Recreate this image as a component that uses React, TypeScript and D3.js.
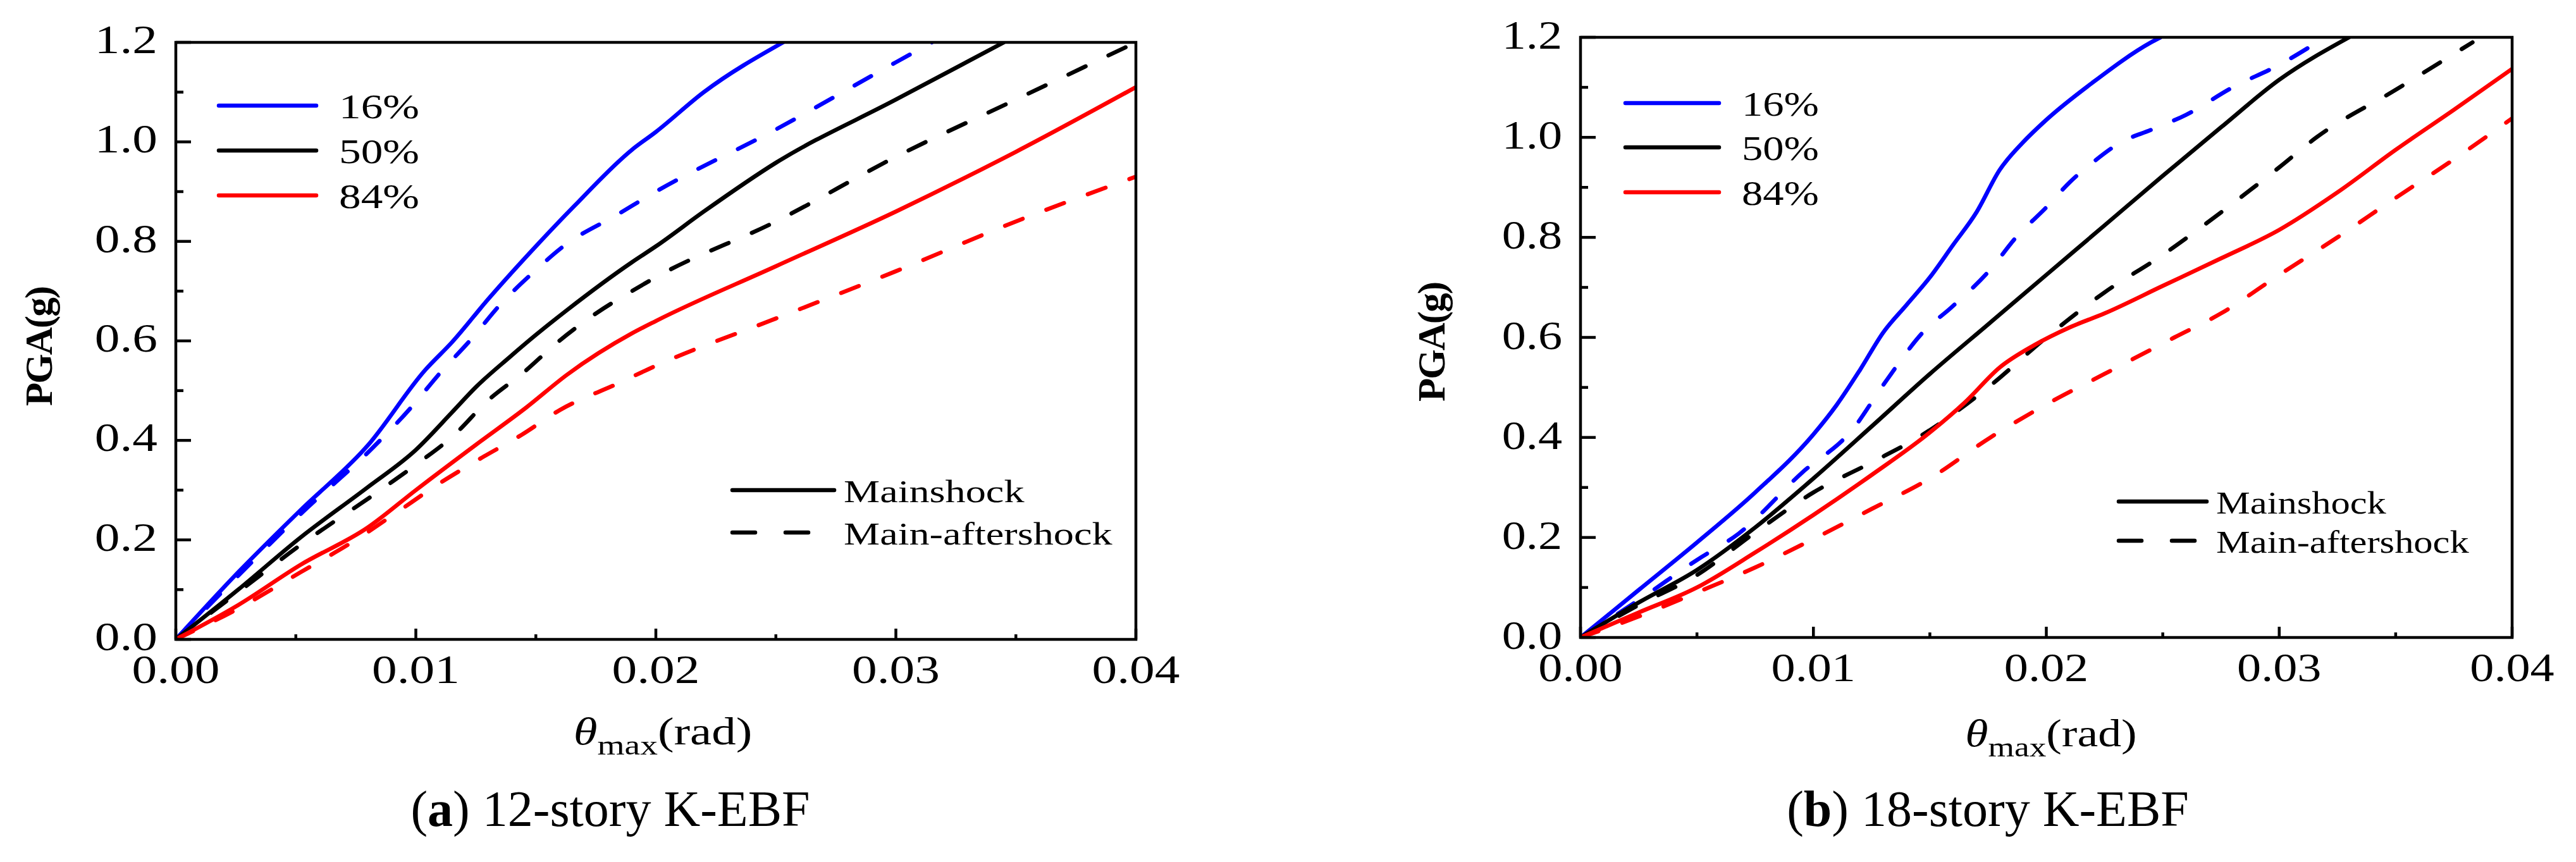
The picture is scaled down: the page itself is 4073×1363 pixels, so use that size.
import * as d3 from "d3";

const W = 4073;
const H = 1363;
const FONT = "'Liberation Serif', 'Times New Roman', Times, serif";

type Pt = [number, number];

const xTickValues = [0, 0.01, 0.02, 0.03, 0.04];
const xTickLabels = ["0.00", "0.01", "0.02", "0.03", "0.04"];
const xMinorValues = [0.005, 0.015, 0.025, 0.035];
const yTickValues = [0, 0.2, 0.4, 0.6, 0.8, 1.0, 1.2];
const yTickLabels = ["0.0", "0.2", "0.4", "0.6", "0.8", "1.0", "1.2"];
const yMinorValues = [0.1, 0.3, 0.5, 0.7, 0.9, 1.1];

const levels = [
    { label: "16%", color: "#0000ff" },
    { label: "50%", color: "#000000" },
    { label: "84%", color: "#ff0000" },
];
const shockTypes = ["Mainshock", "Main-aftershock"];

// 12-story K-EBF: [theta_max, PGA]
const k12p16Main: Pt[] = [[0, 0], [0.0026, 0.135], [0.0052, 0.26], [0.008, 0.39], [0.0104, 0.542], [0.0115, 0.597], [0.013, 0.683], [0.015, 0.79], [0.0166, 0.871], [0.019, 0.984], [0.02, 1.02], [0.022, 1.1], [0.0253, 1.2]];
const k12p16After: Pt[] = [[0, 0], [0.0026, 0.128], [0.0052, 0.252], [0.0082, 0.385], [0.0098, 0.466], [0.011, 0.535], [0.0123, 0.603], [0.0135, 0.672], [0.0149, 0.738], [0.0162, 0.792], [0.0184, 0.854], [0.02, 0.9], [0.025, 1.025], [0.03, 1.16], [0.0315, 1.2]];
const k12p50Main: Pt[] = [[0, 0], [0.0026, 0.1], [0.0052, 0.205], [0.008, 0.306], [0.01, 0.381], [0.0115, 0.456], [0.0125, 0.507], [0.0139, 0.567], [0.015, 0.612], [0.0163, 0.662], [0.019, 0.758], [0.02, 0.79], [0.022, 0.86], [0.025, 0.958], [0.03, 1.085], [0.0345, 1.2]];
const k12p50After: Pt[] = [[0, 0], [0.0026, 0.095], [0.0052, 0.19], [0.0084, 0.296], [0.01, 0.351], [0.0116, 0.411], [0.013, 0.48], [0.0145, 0.537], [0.0159, 0.597], [0.0175, 0.655], [0.019, 0.7], [0.02, 0.728], [0.025, 0.84], [0.03, 0.97], [0.035, 1.085], [0.04, 1.2]];
const k12p84Main: Pt[] = [[0, 0], [0.0026, 0.069], [0.0052, 0.15], [0.008, 0.225], [0.01, 0.3], [0.0125, 0.391], [0.0146, 0.466], [0.0163, 0.532], [0.019, 0.615], [0.02, 0.64], [0.025, 0.75], [0.03, 0.86], [0.035, 0.98], [0.04, 1.11]];
const k12p84After: Pt[] = [[0, 0], [0.0026, 0.062], [0.0052, 0.135], [0.0075, 0.2], [0.0092, 0.255], [0.0109, 0.311], [0.0126, 0.361], [0.0144, 0.411], [0.016, 0.461], [0.0184, 0.514], [0.02, 0.55], [0.025, 0.645], [0.03, 0.74], [0.035, 0.84], [0.04, 0.93]];

// 18-story K-EBF
const k18p16Main: Pt[] = [[0, 0], [0.0025, 0.095], [0.005, 0.19], [0.0075, 0.29], [0.01, 0.406], [0.011, 0.465], [0.012, 0.535], [0.013, 0.61], [0.014, 0.665], [0.015, 0.72], [0.016, 0.785], [0.017, 0.85], [0.018, 0.935], [0.019, 0.99], [0.02, 1.035], [0.022, 1.11], [0.0245, 1.19], [0.0249, 1.2]];
const k18p16After: Pt[] = [[0, 0], [0.0025, 0.075], [0.005, 0.155], [0.0068, 0.208], [0.0095, 0.329], [0.0117, 0.417], [0.013, 0.505], [0.0148, 0.615], [0.0159, 0.659], [0.0176, 0.736], [0.0187, 0.8], [0.02, 0.86], [0.021, 0.91], [0.022, 0.95], [0.0232, 0.99], [0.0245, 1.015], [0.026, 1.045], [0.028, 1.1], [0.03, 1.145], [0.0318, 1.195]];
const k18p50Main: Pt[] = [[0, 0], [0.0025, 0.07], [0.005, 0.135], [0.0075, 0.22], [0.01, 0.318], [0.0125, 0.422], [0.015, 0.527], [0.0175, 0.626], [0.02, 0.725], [0.0225, 0.824], [0.025, 0.923], [0.0275, 1.02], [0.03, 1.115], [0.033, 1.2]];
const k18p50After: Pt[] = [[0, 0], [0.0025, 0.065], [0.005, 0.125], [0.0075, 0.21], [0.01, 0.29], [0.0125, 0.35], [0.0145, 0.4], [0.0175, 0.5], [0.02, 0.6], [0.0225, 0.69], [0.025, 0.765], [0.0275, 0.85], [0.03, 0.94], [0.0316, 1.0], [0.035, 1.095], [0.0383, 1.19]];
const k18p84Main: Pt[] = [[0, 0], [0.0025, 0.05], [0.005, 0.1], [0.0075, 0.17], [0.01, 0.245], [0.0125, 0.325], [0.015, 0.41], [0.0165, 0.47], [0.018, 0.54], [0.0195, 0.585], [0.021, 0.62], [0.0225, 0.648], [0.025, 0.703], [0.0275, 0.758], [0.03, 0.815], [0.0325, 0.89], [0.035, 0.975], [0.0375, 1.055], [0.04, 1.137]];
const k18p84After: Pt[] = [[0, 0], [0.0025, 0.042], [0.005, 0.09], [0.0075, 0.14], [0.01, 0.197], [0.0125, 0.257], [0.015, 0.318], [0.0176, 0.4], [0.02, 0.466], [0.0225, 0.527], [0.0255, 0.6], [0.0275, 0.648], [0.03, 0.725], [0.0325, 0.8], [0.035, 0.879], [0.0375, 0.956], [0.04, 1.038]];

const panels = [
    {
        id: "a",
        title: "12-story K-EBF",
        series: [[k12p16Main, k12p16After], [k12p50Main, k12p50After], [k12p84Main, k12p84After]],
        x0: 278, x1: 1796, top: 67, bottom: 1011, sx: 1.26,
        yLabelX: 82, yLabelY: 548, xLabelY: 1177, xLabelX: 1048, xTickY: 1080, yTickDy: 17,
        legendX: 346, legendLen: 154, legendY: [167, 238, 309],
        shockX: 1158, shockLen: 161, shockY: [775, 842], shockFont: 51,
        captionX: 965,
    },
    {
        id: "b",
        title: "18-story K-EBF",
        series: [[k18p16Main, k18p16After], [k18p50Main, k18p50After], [k18p84Main, k18p84After]],
        x0: 2499, x1: 3972, top: 59, bottom: 1008, sx: 1.21,
        yLabelX: 2284, yLabelY: 541, xLabelY: 1180, xLabelX: 3243, xTickY: 1077, yTickDy: 18,
        legendX: 2570, legendLen: 148, legendY: [163, 233, 304],
        shockX: 3350, shockLen: 139, shockY: [793, 855], shockFont: 50,
        captionX: 3143,
    },
];

type Panel = (typeof panels)[number];

function ChartPanel({ p }: { p: Panel }) {
    const x = d3.scaleLinear().domain([0, 0.04]).range([p.x0, p.x1]);
    const y = d3.scaleLinear().domain([0, 1.2]).range([p.bottom, p.top]);
    const line = d3
        .line<Pt>()
        .x((d) => x(d[0]))
        .y((d) => y(d[1]))
        .curve(d3.curveMonotoneX);
    const clipId = `clip-${p.id}`;
    const st = (tx: number, ty: number) => `translate(${tx},${ty}) scale(${p.sx},1)`;

    return (
        <g>
            <defs>
                <clipPath id={clipId}>
                    <rect x={p.x0} y={p.top} width={p.x1 - p.x0} height={p.bottom - p.top} />
                </clipPath>
            </defs>

            {/* curves */}
            <g clipPath={`url(#${clipId})`} fill="none" strokeWidth={6.5} strokeLinecap="round" strokeLinejoin="round">
                {p.series.map((pair, i) =>
                    pair.map((pts, j) => (
                        <path
                            key={`${i}-${j}`}
                            d={line(pts) ?? ""}
                            stroke={levels[i].color}
                            strokeDasharray={j === 1 ? "30 40" : undefined}
                        />
                    ))
                )}
            </g>

            {/* ticks */}
            <g stroke="#000" strokeWidth={4.5}>
                {yTickValues.map((v) => (
                    <line key={`ym${v}`} x1={p.x0} x2={p.x0 + 24} y1={y(v)} y2={y(v)} />
                ))}
                {yMinorValues.map((v) => (
                    <line key={`yn${v}`} x1={p.x0} x2={p.x0 + 12} y1={y(v)} y2={y(v)} />
                ))}
                {xTickValues.map((v) => (
                    <line key={`xm${v}`} x1={x(v)} x2={x(v)} y1={p.bottom} y2={p.bottom - 17} />
                ))}
                {xMinorValues.map((v) => (
                    <line key={`xn${v}`} x1={x(v)} x2={x(v)} y1={p.bottom} y2={p.bottom - 8} />
                ))}
            </g>

            {/* frame */}
            <rect x={p.x0} y={p.top} width={p.x1 - p.x0} height={p.bottom - p.top} fill="none" stroke="#000" strokeWidth={4.5} />

            {/* tick labels */}
            <g fontFamily={FONT} fontSize={63} fill="#000">
                {yTickValues.map((v, i) => (
                    <text key={`yl${v}`} transform={st(p.x0 - 29, y(v) + p.yTickDy)} textAnchor="end">
                        {yTickLabels[i]}
                    </text>
                ))}
                {xTickValues.map((v, i) => (
                    <text key={`xl${v}`} transform={st(x(v), p.xTickY)} textAnchor="middle">
                        {xTickLabels[i]}
                    </text>
                ))}
            </g>

            {/* axis titles */}
            <text
                transform={`translate(${p.yLabelX},${p.yLabelY}) rotate(-90)`}
                textAnchor="middle"
                fontFamily={FONT}
                fontWeight="bold"
                fontSize={61}
                letterSpacing={-2}
            >
                PGA(g)
            </text>
            <text transform={st(p.xLabelX, p.xLabelY)} textAnchor="middle" fontFamily={FONT} fontSize={61}>
                <tspan fontStyle="italic">θ</tspan>
                <tspan fontSize={44} dy={16}>max</tspan>
                <tspan dy={-16}>(rad)</tspan>
            </text>

            {/* percentile legend */}
            {levels.map((lv, i) => (
                <g key={lv.label}>
                    <line
                        x1={p.legendX}
                        x2={p.legendX + p.legendLen}
                        y1={p.legendY[i]}
                        y2={p.legendY[i]}
                        stroke={lv.color}
                        strokeWidth={6.5}
                        strokeLinecap="round"
                    />
                    <text transform={st(p.legendX + p.legendLen + 36, p.legendY[i] + 20)} fontFamily={FONT} fontSize={55}>
                        {lv.label}
                    </text>
                </g>
            ))}

            {/* shock type legend */}
            {shockTypes.map((s, i) => (
                <g key={s}>
                    <line
                        x1={p.shockX}
                        x2={p.shockX + p.shockLen}
                        y1={p.shockY[i]}
                        y2={p.shockY[i]}
                        stroke="#000"
                        strokeWidth={6.5}
                        strokeLinecap="round"
                        strokeDasharray={i === 1 ? "36 48" : undefined}
                    />
                    <text transform={st(p.shockX + p.shockLen + 15, p.shockY[i] + 19)} fontFamily={FONT} fontSize={p.shockFont}>
                        {s}
                    </text>
                </g>
            ))}

            {/* caption */}
            <text x={p.captionX} y={1306} textAnchor="middle" fontFamily={FONT} fontSize={80}>
                (<tspan fontWeight="bold">{p.id}</tspan>) {p.title}
            </text>
        </g>
    );
}

export default function App() {
    return (
        <svg
            width={W}
            height={H}
            viewBox={`0 0 ${W} ${H}`}
            style={{ position: "absolute", left: 0, top: 0, background: "#fff" }}
        >
            <rect width={W} height={H} fill="#fff" />
            {panels.map((p) => (
                <ChartPanel key={p.id} p={p} />
            ))}
        </svg>
    );
}
